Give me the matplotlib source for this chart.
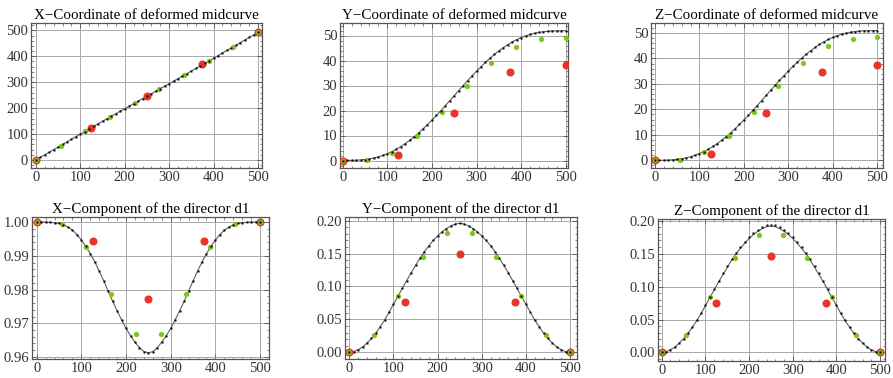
import numpy as np
import matplotlib.pyplot as plt
from matplotlib.ticker import MultipleLocator, FormatStrFormatter

plt.rcParams['font.family'] = ['Liberation Serif', 'DejaVu Serif']

# arc-length parameter of the fine / medium / coarse discretisations
s_fine = np.arange(0, 501, 10)
s_green = np.linspace(0, 500, 10)
s_red = np.linspace(0, 500, 5)

x_fine = [0, 10, 20, 30, 40, 50, 60, 70, 79.96, 89.93, 99.88, 109.82, 119.74, 129.63, 139.5, 149.34,
          159.15, 168.93, 178.68, 188.4, 198.1, 207.78, 217.43, 227.07, 236.69, 246.3, 255.92, 265.54,
          275.17, 284.83, 294.5, 304.2, 313.92, 323.67, 333.45, 343.26, 353.1, 362.97, 372.87, 382.78,
          392.72, 402.67, 412.64, 422.62, 432.6, 442.61, 452.6, 462.6, 472.6, 482.6, 492.6]
x_green = [0, 55.3, 110.5, 165.8, 219.8, 272.5, 326.5, 381.7, 437.0, 492.8]
x_red = [0, 124.7, 246.8, 370.2, 492.5]

y_fine = [0, 0.005, 0.03, 0.09, 0.21, 0.39, 0.65, 1.0, 1.46, 2.03, 2.72, 3.54, 4.48, 5.55, 6.74, 8.05,
          9.48, 11.01, 12.64, 14.36, 16.16, 18.03, 19.95, 21.92, 23.92, 25.95, 27.98, 29.98, 31.95, 33.87,
          35.74, 37.54, 39.26, 40.89, 42.42, 43.85, 45.16, 46.35, 47.42, 48.36, 49.18, 49.87, 50.44, 50.9,
          51.25, 51.51, 51.69, 51.81, 51.87, 51.895, 51.9]
y_green = [0, 0.3, 3.2, 9.9, 19.3, 29.7, 39.2, 45.6, 48.7, 49.2]
y_red = [0, 2.4, 19.1, 35.6, 38.4]

z_fine = [0, 0.005, 0.03, 0.09, 0.21, 0.38, 0.64, 0.98, 1.43, 1.99, 2.67, 3.47, 4.39, 5.44, 6.61, 7.9,
          9.3, 10.8, 12.4, 14.09, 15.85, 17.69, 19.57, 21.5, 23.47, 25.46, 27.45, 29.41, 31.34, 33.23,
          35.06, 36.83, 38.51, 40.11, 41.61, 43.02, 44.3, 45.47, 46.52, 47.44, 48.24, 48.92, 49.48, 49.93,
          50.28, 50.53, 50.71, 50.83, 50.88, 50.905, 50.91]
z_green = [0, 0.3, 3.3, 9.7, 19.0, 29.1, 38.2, 44.9, 47.8, 48.3]
z_red = [0, 2.4, 18.7, 34.8, 37.3]

d1x_fine = [1.0, 1.0, 1.0, 0.9999, 0.9998, 0.9996, 0.9992, 0.9985, 0.9976, 0.9963, 0.9947, 0.9928, 0.9906,
            0.9882, 0.9854, 0.9826, 0.9795, 0.9765, 0.9737, 0.9710, 0.9685, 0.9663, 0.9644, 0.9628, 0.9616,
            0.9612, 0.9616, 0.9628, 0.9644, 0.9663, 0.9685, 0.9710, 0.9737, 0.9765, 0.9795, 0.9826, 0.9854,
            0.9882, 0.9906, 0.9928, 0.9947, 0.9963, 0.9976, 0.9985, 0.9992, 0.9996, 0.9998, 0.9999, 1.0, 1.0, 1.0]
d1x_green = [1.0, 0.9994, 0.99265, 0.97876, 0.96675, 0.96675, 0.97876, 0.99265, 0.9994, 1.0]
d1x_red = [1.0, 0.99424, 0.97727, 0.99424, 1.0]

d1y_fine = [0, 0.001, 0.004, 0.008, 0.014, 0.021, 0.029, 0.039, 0.049, 0.061, 0.073, 0.085, 0.097, 0.109,
            0.121, 0.132, 0.143, 0.153, 0.162, 0.170, 0.177, 0.183, 0.188, 0.192, 0.195, 0.196, 0.195, 0.192,
            0.188, 0.183, 0.177, 0.170, 0.162, 0.153, 0.143, 0.132, 0.121, 0.109, 0.097, 0.085, 0.073, 0.061,
            0.049, 0.039, 0.029, 0.021, 0.014, 0.008, 0.004, 0.001, 0]
d1y_green = [0, 0.0263, 0.0856, 0.1448, 0.1818, 0.1818, 0.1448, 0.0856, 0.0263, 0]
d1y_red = [0, 0.0765, 0.150, 0.0765, 0]

d1z_fine = [0, 0.001, 0.004, 0.008, 0.014, 0.021, 0.029, 0.039, 0.049, 0.060, 0.072, 0.084, 0.096, 0.108,
            0.120, 0.131, 0.142, 0.151, 0.160, 0.168, 0.175, 0.181, 0.186, 0.190, 0.193, 0.194, 0.193, 0.190,
            0.186, 0.181, 0.175, 0.168, 0.160, 0.151, 0.142, 0.131, 0.120, 0.108, 0.096, 0.084, 0.072, 0.060,
            0.049, 0.039, 0.029, 0.021, 0.014, 0.008, 0.004, 0.001, 0]
d1z_line = [0, 0.001, 0.004, 0.008, 0.014, 0.021, 0.029, 0.038, 0.048, 0.059, 0.071, 0.083, 0.095, 0.107,
            0.118, 0.129, 0.140, 0.150, 0.158, 0.166, 0.173, 0.179, 0.184, 0.188, 0.191, 0.192, 0.191, 0.188,
            0.184, 0.179, 0.173, 0.166, 0.158, 0.150, 0.140, 0.129, 0.118, 0.107, 0.095, 0.083, 0.071, 0.059,
            0.048, 0.038, 0.029, 0.021, 0.014, 0.008, 0.004, 0.001, 0]
d1z_green = [0, 0.0258, 0.0846, 0.1433, 0.1782, 0.1782, 0.1433, 0.0846, 0.0258, 0]
d1z_red = [0, 0.0744, 0.147, 0.0744, 0]

titles = ["X\u2212Coordinate of deformed midcurve", "Y\u2212Coordinate of deformed midcurve",
          "Z\u2212Coordinate of deformed midcurve", "X\u2212Component of the director d1",
          "Y\u2212Component of the director d1", "Z\u2212Component of the director d1"]

W, H = 893, 378
# panel frames in pixels: left, right, top, bottom
frames = [(31, 262, 23, 168), (340, 568, 23, 168), (651, 883, 23, 168),
          (32, 269, 217, 359), (345, 577, 217, 359), (658, 885, 219, 361)]
xlims = [(-11, 509), (-6, 505), (-9, 513), (-10.5, 520), (-9.8, 515.8), (-8.5, 511)]
ylims = [(-31, 528.5), (-3, 55), (-3, 53.9), (0.9594, 1.0015), (-0.0102, 0.2056), (-0.013, 0.2026)]
ymajor = [100, 10, 10, 0.01, 0.05, 0.05]
yminor = [20, 2, 2, 0.002, 0.01, 0.01]
yfmt = ['%d', '%d', '%d', '%.2f', '%.2f', '%.2f']

panels = [(x_fine, x_fine, x_green, x_red), (y_fine, y_fine, y_green, y_red),
          (z_fine, z_fine, z_green, z_red), (d1x_fine, d1x_fine, d1x_green, d1x_red),
          (d1y_fine, d1y_fine, d1y_green, d1y_red), (d1z_fine, d1z_line, d1z_green, d1z_red)]

fig = plt.figure(figsize=(W / 100, H / 100), dpi=100)
frame_col = '#555555'
for i, (fine, line, green, red) in enumerate(panels):
    l, r, t, b = frames[i]
    ax = fig.add_axes([l / W, 1 - b / H, (r - l) / W, (b - t) / H])
    ax.plot(s_fine, line, color='#606060', lw=0.8, zorder=2)
    ax.plot(s_red, red, 'o', color='#e8352c', ms=5.8, mec='none', zorder=3)
    ax.plot(s_green, green, 'o', color='#7cc618', ms=3.8, mec='none', zorder=4)
    ax.plot(s_fine, fine, 's', color='black', ms=2.1, mec='none', zorder=5)
    ax.set_xlim(*xlims[i])
    ax.set_ylim(*ylims[i])
    ax.xaxis.set_major_locator(MultipleLocator(100))
    ax.xaxis.set_minor_locator(MultipleLocator(20))
    ax.yaxis.set_major_locator(MultipleLocator(ymajor[i]))
    ax.yaxis.set_minor_locator(MultipleLocator(yminor[i]))
    ax.yaxis.set_major_formatter(FormatStrFormatter(yfmt[i]))
    ax.grid(True, which='major', color='#a8a8a8', lw=0.7)
    ax.set_axisbelow(True)
    ax.tick_params(which='both', direction='in', top=True, right=True, colors=frame_col,
                   labelcolor='#333333', labelsize=10.5, pad=2)
    ax.tick_params(which='major', length=3.5, width=0.6)
    ax.tick_params(which='minor', length=1.8, width=0.5)
    for sp in ax.spines.values():
        sp.set_color(frame_col)
        sp.set_linewidth(0.9)
    ax.set_title(titles[i], fontsize=10.8, pad=3)

fig.savefig('out.png', dpi=100)
